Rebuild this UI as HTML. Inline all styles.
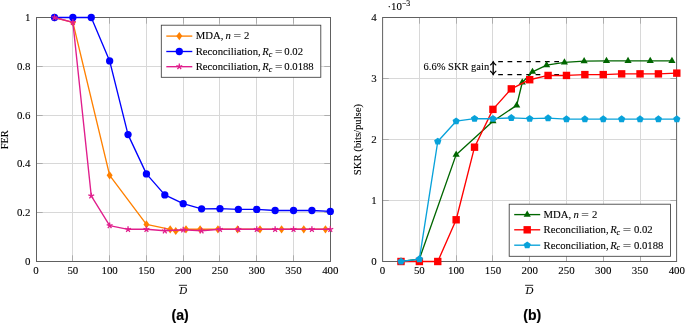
<!DOCTYPE html><html><head><meta charset="utf-8"><style>html,body{margin:0;padding:0;background:#fff}body{width:685px;height:323px;position:relative;overflow:hidden}</style></head><body><svg width="685" height="323" viewBox="0 0 685 323" style="position:absolute;left:0;top:0">
<rect width="685" height="323" fill="#fff"/>
<line x1="72.5" y1="17.5" x2="72.5" y2="261.5" stroke="#d8d8d8" stroke-width="1"/><line x1="109.5" y1="17.5" x2="109.5" y2="261.5" stroke="#d8d8d8" stroke-width="1"/><line x1="146.5" y1="17.5" x2="146.5" y2="261.5" stroke="#d8d8d8" stroke-width="1"/><line x1="183.5" y1="17.5" x2="183.5" y2="261.5" stroke="#d8d8d8" stroke-width="1"/><line x1="219.5" y1="17.5" x2="219.5" y2="261.5" stroke="#d8d8d8" stroke-width="1"/><line x1="256.5" y1="17.5" x2="256.5" y2="261.5" stroke="#d8d8d8" stroke-width="1"/><line x1="293.5" y1="17.5" x2="293.5" y2="261.5" stroke="#d8d8d8" stroke-width="1"/><line x1="36.5" y1="212.5" x2="330.5" y2="212.5" stroke="#d8d8d8" stroke-width="1"/><line x1="36.5" y1="163.5" x2="330.5" y2="163.5" stroke="#d8d8d8" stroke-width="1"/><line x1="36.5" y1="115.5" x2="330.5" y2="115.5" stroke="#d8d8d8" stroke-width="1"/><line x1="36.5" y1="66.5" x2="330.5" y2="66.5" stroke="#d8d8d8" stroke-width="1"/>
<line x1="419.5" y1="17.5" x2="419.5" y2="261.5" stroke="#d8d8d8" stroke-width="1"/><line x1="456.5" y1="17.5" x2="456.5" y2="261.5" stroke="#d8d8d8" stroke-width="1"/><line x1="492.5" y1="17.5" x2="492.5" y2="261.5" stroke="#d8d8d8" stroke-width="1"/><line x1="529.5" y1="17.5" x2="529.5" y2="261.5" stroke="#d8d8d8" stroke-width="1"/><line x1="566.5" y1="17.5" x2="566.5" y2="261.5" stroke="#d8d8d8" stroke-width="1"/><line x1="603.5" y1="17.5" x2="603.5" y2="261.5" stroke="#d8d8d8" stroke-width="1"/><line x1="640.5" y1="17.5" x2="640.5" y2="261.5" stroke="#d8d8d8" stroke-width="1"/><line x1="382.6" y1="200.5" x2="676.6" y2="200.5" stroke="#d8d8d8" stroke-width="1"/><line x1="382.6" y1="139.5" x2="676.6" y2="139.5" stroke="#d8d8d8" stroke-width="1"/><line x1="382.6" y1="78.5" x2="676.6" y2="78.5" stroke="#d8d8d8" stroke-width="1"/>
<clipPath id="c1"><rect x="32.5" y="13.5" width="302.0" height="252.0"/></clipPath>
<line x1="72.5" y1="261.5" x2="72.5" y2="255.3" stroke="#999999" stroke-width="0.7"/><line x1="72.5" y1="17.5" x2="72.5" y2="23.7" stroke="#999999" stroke-width="0.7"/><line x1="109.5" y1="261.5" x2="109.5" y2="255.3" stroke="#999999" stroke-width="0.7"/><line x1="109.5" y1="17.5" x2="109.5" y2="23.7" stroke="#999999" stroke-width="0.7"/><line x1="146.5" y1="261.5" x2="146.5" y2="255.3" stroke="#999999" stroke-width="0.7"/><line x1="146.5" y1="17.5" x2="146.5" y2="23.7" stroke="#999999" stroke-width="0.7"/><line x1="183.5" y1="261.5" x2="183.5" y2="255.3" stroke="#999999" stroke-width="0.7"/><line x1="183.5" y1="17.5" x2="183.5" y2="23.7" stroke="#999999" stroke-width="0.7"/><line x1="219.5" y1="261.5" x2="219.5" y2="255.3" stroke="#999999" stroke-width="0.7"/><line x1="219.5" y1="17.5" x2="219.5" y2="23.7" stroke="#999999" stroke-width="0.7"/><line x1="256.5" y1="261.5" x2="256.5" y2="255.3" stroke="#999999" stroke-width="0.7"/><line x1="256.5" y1="17.5" x2="256.5" y2="23.7" stroke="#999999" stroke-width="0.7"/><line x1="293.5" y1="261.5" x2="293.5" y2="255.3" stroke="#999999" stroke-width="0.7"/><line x1="293.5" y1="17.5" x2="293.5" y2="23.7" stroke="#999999" stroke-width="0.7"/><line x1="36.5" y1="212.5" x2="42.7" y2="212.5" stroke="#999999" stroke-width="0.7"/><line x1="330.5" y1="212.5" x2="324.3" y2="212.5" stroke="#999999" stroke-width="0.7"/><line x1="36.5" y1="163.5" x2="42.7" y2="163.5" stroke="#999999" stroke-width="0.7"/><line x1="330.5" y1="163.5" x2="324.3" y2="163.5" stroke="#999999" stroke-width="0.7"/><line x1="36.5" y1="115.5" x2="42.7" y2="115.5" stroke="#999999" stroke-width="0.7"/><line x1="330.5" y1="115.5" x2="324.3" y2="115.5" stroke="#999999" stroke-width="0.7"/><line x1="36.5" y1="66.5" x2="42.7" y2="66.5" stroke="#999999" stroke-width="0.7"/><line x1="330.5" y1="66.5" x2="324.3" y2="66.5" stroke="#999999" stroke-width="0.7"/><rect x="36.5" y="17.5" width="294.0" height="244.0" fill="none" stroke="#606060" stroke-width="1"/><text x="36.10" y="274.3" font-size="10.9" text-anchor="middle" font-family="Liberation Serif, serif" stroke="#000" stroke-width="0.1" fill="#000">0</text><text x="72.88" y="274.3" font-size="10.9" text-anchor="middle" font-family="Liberation Serif, serif" stroke="#000" stroke-width="0.1" fill="#000">50</text><text x="109.65" y="274.3" font-size="10.9" text-anchor="middle" font-family="Liberation Serif, serif" stroke="#000" stroke-width="0.1" fill="#000">100</text><text x="146.43" y="274.3" font-size="10.9" text-anchor="middle" font-family="Liberation Serif, serif" stroke="#000" stroke-width="0.1" fill="#000">150</text><text x="183.20" y="274.3" font-size="10.9" text-anchor="middle" font-family="Liberation Serif, serif" stroke="#000" stroke-width="0.1" fill="#000">200</text><text x="219.97" y="274.3" font-size="10.9" text-anchor="middle" font-family="Liberation Serif, serif" stroke="#000" stroke-width="0.1" fill="#000">250</text><text x="256.75" y="274.3" font-size="10.9" text-anchor="middle" font-family="Liberation Serif, serif" stroke="#000" stroke-width="0.1" fill="#000">300</text><text x="293.53" y="274.3" font-size="10.9" text-anchor="middle" font-family="Liberation Serif, serif" stroke="#000" stroke-width="0.1" fill="#000">350</text><text x="330.30" y="274.3" font-size="10.9" text-anchor="middle" font-family="Liberation Serif, serif" stroke="#000" stroke-width="0.1" fill="#000">400</text><text x="30.50" y="264.90" font-size="10.9" text-anchor="end" font-family="Liberation Serif, serif" stroke="#000" stroke-width="0.1" fill="#000">0</text><text x="30.50" y="216.10" font-size="10.9" text-anchor="end" font-family="Liberation Serif, serif" stroke="#000" stroke-width="0.1" fill="#000">0.2</text><text x="30.50" y="167.30" font-size="10.9" text-anchor="end" font-family="Liberation Serif, serif" stroke="#000" stroke-width="0.1" fill="#000">0.4</text><text x="30.50" y="118.50" font-size="10.9" text-anchor="end" font-family="Liberation Serif, serif" stroke="#000" stroke-width="0.1" fill="#000">0.6</text><text x="30.50" y="69.70" font-size="10.9" text-anchor="end" font-family="Liberation Serif, serif" stroke="#000" stroke-width="0.1" fill="#000">0.8</text><text x="30.50" y="20.90" font-size="10.9" text-anchor="end" font-family="Liberation Serif, serif" stroke="#000" stroke-width="0.1" fill="#000">1</text>
<line x1="419.5" y1="261.5" x2="419.5" y2="255.3" stroke="#999999" stroke-width="0.7"/><line x1="419.5" y1="17.5" x2="419.5" y2="23.7" stroke="#999999" stroke-width="0.7"/><line x1="456.5" y1="261.5" x2="456.5" y2="255.3" stroke="#999999" stroke-width="0.7"/><line x1="456.5" y1="17.5" x2="456.5" y2="23.7" stroke="#999999" stroke-width="0.7"/><line x1="492.5" y1="261.5" x2="492.5" y2="255.3" stroke="#999999" stroke-width="0.7"/><line x1="492.5" y1="17.5" x2="492.5" y2="23.7" stroke="#999999" stroke-width="0.7"/><line x1="529.5" y1="261.5" x2="529.5" y2="255.3" stroke="#999999" stroke-width="0.7"/><line x1="529.5" y1="17.5" x2="529.5" y2="23.7" stroke="#999999" stroke-width="0.7"/><line x1="566.5" y1="261.5" x2="566.5" y2="255.3" stroke="#999999" stroke-width="0.7"/><line x1="566.5" y1="17.5" x2="566.5" y2="23.7" stroke="#999999" stroke-width="0.7"/><line x1="603.5" y1="261.5" x2="603.5" y2="255.3" stroke="#999999" stroke-width="0.7"/><line x1="603.5" y1="17.5" x2="603.5" y2="23.7" stroke="#999999" stroke-width="0.7"/><line x1="640.5" y1="261.5" x2="640.5" y2="255.3" stroke="#999999" stroke-width="0.7"/><line x1="640.5" y1="17.5" x2="640.5" y2="23.7" stroke="#999999" stroke-width="0.7"/><line x1="382.6" y1="200.5" x2="388.8" y2="200.5" stroke="#999999" stroke-width="0.7"/><line x1="676.6" y1="200.5" x2="670.4" y2="200.5" stroke="#999999" stroke-width="0.7"/><line x1="382.6" y1="139.5" x2="388.8" y2="139.5" stroke="#999999" stroke-width="0.7"/><line x1="676.6" y1="139.5" x2="670.4" y2="139.5" stroke="#999999" stroke-width="0.7"/><line x1="382.6" y1="78.5" x2="388.8" y2="78.5" stroke="#999999" stroke-width="0.7"/><line x1="676.6" y1="78.5" x2="670.4" y2="78.5" stroke="#999999" stroke-width="0.7"/><rect x="382.6" y="17.5" width="294.0" height="244.0" fill="none" stroke="#606060" stroke-width="1"/><text x="382.60" y="274.3" font-size="10.9" text-anchor="middle" font-family="Liberation Serif, serif" stroke="#000" stroke-width="0.1" fill="#000">0</text><text x="419.38" y="274.3" font-size="10.9" text-anchor="middle" font-family="Liberation Serif, serif" stroke="#000" stroke-width="0.1" fill="#000">50</text><text x="456.15" y="274.3" font-size="10.9" text-anchor="middle" font-family="Liberation Serif, serif" stroke="#000" stroke-width="0.1" fill="#000">100</text><text x="492.93" y="274.3" font-size="10.9" text-anchor="middle" font-family="Liberation Serif, serif" stroke="#000" stroke-width="0.1" fill="#000">150</text><text x="529.70" y="274.3" font-size="10.9" text-anchor="middle" font-family="Liberation Serif, serif" stroke="#000" stroke-width="0.1" fill="#000">200</text><text x="566.48" y="274.3" font-size="10.9" text-anchor="middle" font-family="Liberation Serif, serif" stroke="#000" stroke-width="0.1" fill="#000">250</text><text x="603.25" y="274.3" font-size="10.9" text-anchor="middle" font-family="Liberation Serif, serif" stroke="#000" stroke-width="0.1" fill="#000">300</text><text x="640.03" y="274.3" font-size="10.9" text-anchor="middle" font-family="Liberation Serif, serif" stroke="#000" stroke-width="0.1" fill="#000">350</text><text x="676.80" y="274.3" font-size="10.9" text-anchor="middle" font-family="Liberation Serif, serif" stroke="#000" stroke-width="0.1" fill="#000">400</text><text x="376.60" y="264.90" font-size="10.9" text-anchor="end" font-family="Liberation Serif, serif" stroke="#000" stroke-width="0.1" fill="#000">0</text><text x="376.60" y="203.90" font-size="10.9" text-anchor="end" font-family="Liberation Serif, serif" stroke="#000" stroke-width="0.1" fill="#000">1</text><text x="376.60" y="142.90" font-size="10.9" text-anchor="end" font-family="Liberation Serif, serif" stroke="#000" stroke-width="0.1" fill="#000">2</text><text x="376.60" y="81.90" font-size="10.9" text-anchor="end" font-family="Liberation Serif, serif" stroke="#000" stroke-width="0.1" fill="#000">3</text><text x="376.60" y="20.90" font-size="10.9" text-anchor="end" font-family="Liberation Serif, serif" stroke="#000" stroke-width="0.1" fill="#000">4</text>
<line x1="498.2" y1="61.60" x2="559.2" y2="61.60" stroke="#000" stroke-width="1.3" stroke-dasharray="4.7,4.65"/><line x1="498.2" y1="74.60" x2="559.2" y2="74.60" stroke="#000" stroke-width="1.3" stroke-dasharray="4.7,4.65"/><path d="M493.2,61.90L493.2,74.30" stroke="#000" stroke-width="1.3" fill="none"/><path d="M490.5,65.00Q492.59999999999997,63.40 493.2,61.30Q493.8,63.40 495.9,65.00M490.5,71.20Q492.59999999999997,72.80 493.2,74.90Q493.8,72.80 495.9,71.20" stroke="#000" stroke-width="1.1" fill="none" stroke-linecap="round" stroke-linejoin="round"/>
<g>
<polyline points="54.49,17.50 72.88,22.38 109.65,175.37 146.43,224.41 170.18,229.29 175.77,231.00 185.99,229.29 200.12,229.29 217.92,229.29 237.63,229.29 259.99,229.29 281.54,229.29 303.75,229.29 325.45,229.29" fill="none" stroke="#FF8000" stroke-width="1.35" stroke-linejoin="round"/><polygon points="54.49,13.40 57.49,17.50 54.49,21.60 51.49,17.50" fill="#FF8000"/><polygon points="72.88,18.28 75.88,22.38 72.88,26.48 69.88,22.38" fill="#FF8000"/><polygon points="109.65,171.27 112.65,175.37 109.65,179.47 106.65,175.37" fill="#FF8000"/><polygon points="146.43,220.31 149.43,224.41 146.43,228.51 143.43,224.41" fill="#FF8000"/><polygon points="170.18,225.19 173.18,229.29 170.18,233.39 167.18,229.29" fill="#FF8000"/><polygon points="175.77,226.90 178.77,231.00 175.77,235.10 172.77,231.00" fill="#FF8000"/><polygon points="185.99,225.19 188.99,229.29 185.99,233.39 182.99,229.29" fill="#FF8000"/><polygon points="200.12,225.19 203.12,229.29 200.12,233.39 197.12,229.29" fill="#FF8000"/><polygon points="217.92,225.19 220.92,229.29 217.92,233.39 214.92,229.29" fill="#FF8000"/><polygon points="237.63,225.19 240.63,229.29 237.63,233.39 234.63,229.29" fill="#FF8000"/><polygon points="259.99,225.19 262.99,229.29 259.99,233.39 256.99,229.29" fill="#FF8000"/><polygon points="281.54,225.19 284.54,229.29 281.54,233.39 278.54,229.29" fill="#FF8000"/><polygon points="303.75,225.19 306.75,229.29 303.75,233.39 300.75,229.29" fill="#FF8000"/><polygon points="325.45,225.19 328.45,229.29 325.45,233.39 322.45,229.29" fill="#FF8000"/>
<polyline points="54.49,17.50 72.88,17.50 91.26,17.50 109.65,60.93 128.04,134.62 146.43,173.90 164.81,194.89 183.20,203.67 201.59,208.80 219.97,208.67 238.36,209.41 256.75,209.41 275.14,210.50 293.53,210.50 311.91,210.50 330.30,211.38" fill="none" stroke="#0000FF" stroke-width="1.35" stroke-linejoin="round"/><circle cx="54.49" cy="17.50" r="3.65" fill="#0000FF"/><circle cx="72.88" cy="17.50" r="3.65" fill="#0000FF"/><circle cx="91.26" cy="17.50" r="3.65" fill="#0000FF"/><circle cx="109.65" cy="60.93" r="3.65" fill="#0000FF"/><circle cx="128.04" cy="134.62" r="3.65" fill="#0000FF"/><circle cx="146.43" cy="173.90" r="3.65" fill="#0000FF"/><circle cx="164.81" cy="194.89" r="3.65" fill="#0000FF"/><circle cx="183.20" cy="203.67" r="3.65" fill="#0000FF"/><circle cx="201.59" cy="208.80" r="3.65" fill="#0000FF"/><circle cx="219.97" cy="208.67" r="3.65" fill="#0000FF"/><circle cx="238.36" cy="209.41" r="3.65" fill="#0000FF"/><circle cx="256.75" cy="209.41" r="3.65" fill="#0000FF"/><circle cx="275.14" cy="210.50" r="3.65" fill="#0000FF"/><circle cx="293.53" cy="210.50" r="3.65" fill="#0000FF"/><circle cx="311.91" cy="210.50" r="3.65" fill="#0000FF"/><circle cx="330.30" cy="211.38" r="3.65" fill="#0000FF"/>
<polyline points="54.49,17.50 72.88,22.38 91.26,195.86 109.65,225.63 128.04,229.29 146.43,229.29 164.81,230.76 183.20,229.78 201.59,230.76 219.97,229.29 238.36,229.29 256.75,229.29 275.14,229.29 293.53,229.29 311.91,229.29 330.30,229.29" fill="none" stroke="#E01E8C" stroke-width="1.35" stroke-linejoin="round"/><path d="M54.49,17.50L54.49,14.40M54.49,17.50L57.44,16.54M54.49,17.50L56.31,20.01M54.49,17.50L52.67,20.01M54.49,17.50L51.54,16.54" stroke="#E01E8C" stroke-width="1.3" fill="none"/><path d="M72.88,22.38L72.88,19.28M72.88,22.38L75.82,21.42M72.88,22.38L74.70,24.89M72.88,22.38L71.05,24.89M72.88,22.38L69.93,21.42" stroke="#E01E8C" stroke-width="1.3" fill="none"/><path d="M91.26,195.86L91.26,192.76M91.26,195.86L94.21,194.91M91.26,195.86L93.08,198.37M91.26,195.86L89.44,198.37M91.26,195.86L88.31,194.91" stroke="#E01E8C" stroke-width="1.3" fill="none"/><path d="M109.65,225.63L109.65,222.53M109.65,225.63L112.60,224.67M109.65,225.63L111.47,228.14M109.65,225.63L107.83,228.14M109.65,225.63L106.70,224.67" stroke="#E01E8C" stroke-width="1.3" fill="none"/><path d="M128.04,229.29L128.04,226.19M128.04,229.29L130.99,228.33M128.04,229.29L129.86,231.80M128.04,229.29L126.22,231.80M128.04,229.29L125.09,228.33" stroke="#E01E8C" stroke-width="1.3" fill="none"/><path d="M146.43,229.29L146.43,226.19M146.43,229.29L149.37,228.33M146.43,229.29L148.25,231.80M146.43,229.29L144.60,231.80M146.43,229.29L143.48,228.33" stroke="#E01E8C" stroke-width="1.3" fill="none"/><path d="M164.81,230.76L164.81,227.66M164.81,230.76L167.76,229.80M164.81,230.76L166.63,233.26M164.81,230.76L162.99,233.26M164.81,230.76L161.86,229.80" stroke="#E01E8C" stroke-width="1.3" fill="none"/><path d="M183.20,229.78L183.20,226.68M183.20,229.78L186.15,228.82M183.20,229.78L185.02,232.29M183.20,229.78L181.38,232.29M183.20,229.78L180.25,228.82" stroke="#E01E8C" stroke-width="1.3" fill="none"/><path d="M201.59,230.76L201.59,227.66M201.59,230.76L204.54,229.80M201.59,230.76L203.41,233.26M201.59,230.76L199.77,233.26M201.59,230.76L198.64,229.80" stroke="#E01E8C" stroke-width="1.3" fill="none"/><path d="M219.97,229.29L219.97,226.19M219.97,229.29L222.92,228.33M219.97,229.29L221.80,231.80M219.97,229.29L218.15,231.80M219.97,229.29L217.03,228.33" stroke="#E01E8C" stroke-width="1.3" fill="none"/><path d="M238.36,229.29L238.36,226.19M238.36,229.29L241.31,228.33M238.36,229.29L240.18,231.80M238.36,229.29L236.54,231.80M238.36,229.29L235.41,228.33" stroke="#E01E8C" stroke-width="1.3" fill="none"/><path d="M256.75,229.29L256.75,226.19M256.75,229.29L259.70,228.33M256.75,229.29L258.57,231.80M256.75,229.29L254.93,231.80M256.75,229.29L253.80,228.33" stroke="#E01E8C" stroke-width="1.3" fill="none"/><path d="M275.14,229.29L275.14,226.19M275.14,229.29L278.09,228.33M275.14,229.29L276.96,231.80M275.14,229.29L273.32,231.80M275.14,229.29L272.19,228.33" stroke="#E01E8C" stroke-width="1.3" fill="none"/><path d="M293.53,229.29L293.53,226.19M293.53,229.29L296.47,228.33M293.53,229.29L295.35,231.80M293.53,229.29L291.70,231.80M293.53,229.29L290.58,228.33" stroke="#E01E8C" stroke-width="1.3" fill="none"/><path d="M311.91,229.29L311.91,226.19M311.91,229.29L314.86,228.33M311.91,229.29L313.73,231.80M311.91,229.29L310.09,231.80M311.91,229.29L308.96,228.33" stroke="#E01E8C" stroke-width="1.3" fill="none"/><path d="M330.30,229.29L330.30,226.19M330.30,229.29L333.25,228.33M330.30,229.29L332.12,231.80M330.30,229.29L328.48,231.80M330.30,229.29L327.35,228.33" stroke="#E01E8C" stroke-width="1.3" fill="none"/>
</g>
<g>
<polyline points="400.99,261.50 419.38,259.06 456.15,154.63 492.93,121.20 516.68,105.34 522.27,82.47 532.49,71.79 546.62,65.20 564.42,62.40 584.13,61.11 606.49,60.93 628.04,60.93 650.25,60.93 671.95,60.81" fill="none" stroke="#006600" stroke-width="1.35" stroke-linejoin="round"/><polygon points="400.99,257.35 404.58,263.57 397.39,263.57" fill="#006600"/><polygon points="419.38,254.91 422.97,261.13 415.78,261.13" fill="#006600"/><polygon points="456.15,150.48 459.74,156.70 452.56,156.70" fill="#006600"/><polygon points="492.93,117.05 496.52,123.28 489.33,123.28" fill="#006600"/><polygon points="516.68,101.19 520.28,107.42 513.09,107.42" fill="#006600"/><polygon points="522.27,78.31 525.87,84.54 518.68,84.54" fill="#006600"/><polygon points="532.49,67.64 536.09,73.87 528.90,73.87" fill="#006600"/><polygon points="546.62,61.05 550.21,67.28 543.02,67.28" fill="#006600"/><polygon points="564.42,58.25 568.01,64.47 560.82,64.47" fill="#006600"/><polygon points="584.13,56.96 587.72,63.19 580.53,63.19" fill="#006600"/><polygon points="606.49,56.78 610.08,63.01 602.89,63.01" fill="#006600"/><polygon points="628.04,56.78 631.63,63.01 624.44,63.01" fill="#006600"/><polygon points="650.25,56.78 653.84,63.01 646.65,63.01" fill="#006600"/><polygon points="671.95,56.66 675.54,62.89 668.35,62.89" fill="#006600"/>
<polyline points="400.99,261.50 419.38,261.50 437.76,261.50 456.15,219.78 474.54,147.19 492.93,109.37 511.31,88.87 529.70,79.72 548.09,75.45 566.48,75.45 584.86,74.60 603.25,74.60 621.64,73.86 640.03,73.86 658.41,73.86 676.80,73.13" fill="none" stroke="#FF0000" stroke-width="1.35" stroke-linejoin="round"/><rect x="397.29" y="257.80" width="7.4" height="7.4" fill="#FF0000"/><rect x="415.68" y="257.80" width="7.4" height="7.4" fill="#FF0000"/><rect x="434.06" y="257.80" width="7.4" height="7.4" fill="#FF0000"/><rect x="452.45" y="216.08" width="7.4" height="7.4" fill="#FF0000"/><rect x="470.84" y="143.49" width="7.4" height="7.4" fill="#FF0000"/><rect x="489.23" y="105.67" width="7.4" height="7.4" fill="#FF0000"/><rect x="507.61" y="85.17" width="7.4" height="7.4" fill="#FF0000"/><rect x="526.00" y="76.02" width="7.4" height="7.4" fill="#FF0000"/><rect x="544.39" y="71.75" width="7.4" height="7.4" fill="#FF0000"/><rect x="562.77" y="71.75" width="7.4" height="7.4" fill="#FF0000"/><rect x="581.16" y="70.90" width="7.4" height="7.4" fill="#FF0000"/><rect x="599.55" y="70.90" width="7.4" height="7.4" fill="#FF0000"/><rect x="617.94" y="70.16" width="7.4" height="7.4" fill="#FF0000"/><rect x="636.33" y="70.16" width="7.4" height="7.4" fill="#FF0000"/><rect x="654.71" y="70.16" width="7.4" height="7.4" fill="#FF0000"/><rect x="673.10" y="69.43" width="7.4" height="7.4" fill="#FF0000"/>
<polyline points="400.99,261.50 419.38,259.06 437.76,141.51 456.15,121.20 474.54,118.70 492.93,118.70 511.31,117.91 529.70,118.70 548.09,118.15 566.48,119.06 584.86,119.06 603.25,119.06 621.64,119.06 640.03,119.06 658.41,119.06 676.80,119.06" fill="none" stroke="#08A2DA" stroke-width="1.35" stroke-linejoin="round"/><polygon points="400.99,257.70 404.60,260.33 403.22,264.57 398.75,264.57 397.37,260.33" fill="#08A2DA"/><polygon points="419.38,255.26 422.99,257.89 421.61,262.13 417.14,262.13 415.76,257.89" fill="#08A2DA"/><polygon points="437.76,137.71 441.38,140.34 440.00,144.59 435.53,144.59 434.15,140.34" fill="#08A2DA"/><polygon points="456.15,117.40 459.76,120.03 458.38,124.27 453.92,124.27 452.54,120.03" fill="#08A2DA"/><polygon points="474.54,114.90 478.15,117.52 476.77,121.77 472.30,121.77 470.92,117.52" fill="#08A2DA"/><polygon points="492.93,114.90 496.54,117.52 495.16,121.77 490.69,121.77 489.31,117.52" fill="#08A2DA"/><polygon points="511.31,114.11 514.93,116.73 513.55,120.98 509.08,120.98 507.70,116.73" fill="#08A2DA"/><polygon points="529.70,114.90 533.31,117.52 531.93,121.77 527.47,121.77 526.09,117.52" fill="#08A2DA"/><polygon points="548.09,114.35 551.70,116.98 550.32,121.22 545.85,121.22 544.47,116.98" fill="#08A2DA"/><polygon points="566.48,115.27 570.09,117.89 568.71,122.14 564.24,122.14 562.86,117.89" fill="#08A2DA"/><polygon points="584.86,115.27 588.48,117.89 587.10,122.14 582.63,122.14 581.25,117.89" fill="#08A2DA"/><polygon points="603.25,115.27 606.86,117.89 605.48,122.14 601.02,122.14 599.64,117.89" fill="#08A2DA"/><polygon points="621.64,115.27 625.25,117.89 623.87,122.14 619.40,122.14 618.02,117.89" fill="#08A2DA"/><polygon points="640.03,115.27 643.64,117.89 642.26,122.14 637.79,122.14 636.41,117.89" fill="#08A2DA"/><polygon points="658.41,115.27 662.03,117.89 660.65,122.14 656.18,122.14 654.80,117.89" fill="#08A2DA"/><polygon points="676.80,115.27 680.41,117.89 679.03,122.14 674.57,122.14 673.19,117.89" fill="#08A2DA"/>
</g>
<text x="489.2" y="70.2" font-size="10.5" text-anchor="end" font-family="Liberation Serif, serif" stroke="#000" stroke-width="0.1" fill="#000">6.6% SKR gain</text>
<rect x="161.3" y="25.2" width="159.5" height="52.1" fill="#fff" stroke="#3c3c3c" stroke-width="0.85"/><line x1="166.3" y1="36.1" x2="192.3" y2="36.1" stroke="#FF8000" stroke-width="1.35"/><polygon points="179.30,32.00 182.30,36.10 179.30,40.20 176.30,36.10" fill="#FF8000"/><text x="195.70" y="39.40" font-size="10.7" font-family="Liberation Serif, serif" stroke="#000" stroke-width="0.1" fill="#000" >MDA,</text><text x="225.50" y="39.40" font-size="10.7" font-family="Liberation Serif, serif" stroke="#000" stroke-width="0.1" fill="#000" font-style="italic">n</text><text transform="translate(237.20,39.40) scale(1.260,1)" font-size="10.7" text-anchor="middle" font-family="Liberation Serif, serif" stroke="#000" stroke-width="0.1" fill="#000">=</text><text x="244.00" y="39.40" font-size="10.7" font-family="Liberation Serif, serif" stroke="#000" stroke-width="0.1" fill="#000" >2</text><line x1="166.3" y1="51.5" x2="192.3" y2="51.5" stroke="#0000FF" stroke-width="1.35"/><circle cx="179.30" cy="51.50" r="3.65" fill="#0000FF"/><text x="195.70" y="54.80" font-size="10.7" font-family="Liberation Serif, serif" stroke="#000" stroke-width="0.1" fill="#000" >Reconciliation,</text><text x="262.30" y="54.80" font-size="10.7" font-family="Liberation Serif, serif" stroke="#000" stroke-width="0.1" fill="#000" font-style="italic">R<tspan font-size="8.2" dy="1.8" dx="-0.2">c</tspan></text><text transform="translate(278.70,54.80) scale(1.240,1)" font-size="10.7" text-anchor="middle" font-family="Liberation Serif, serif" stroke="#000" stroke-width="0.1" fill="#000">=</text><text x="284.30" y="54.80" font-size="10.7" font-family="Liberation Serif, serif" stroke="#000" stroke-width="0.1" fill="#000" >0.02</text><line x1="166.3" y1="66.7" x2="192.3" y2="66.7" stroke="#E01E8C" stroke-width="1.35"/><path d="M179.30,66.70L179.30,63.60M179.30,66.70L182.25,65.74M179.30,66.70L181.12,69.21M179.30,66.70L177.48,69.21M179.30,66.70L176.35,65.74" stroke="#E01E8C" stroke-width="1.3" fill="none"/><text x="195.70" y="70.00" font-size="10.7" font-family="Liberation Serif, serif" stroke="#000" stroke-width="0.1" fill="#000" >Reconciliation,</text><text x="262.30" y="70.00" font-size="10.7" font-family="Liberation Serif, serif" stroke="#000" stroke-width="0.1" fill="#000" font-style="italic">R<tspan font-size="8.2" dy="1.8" dx="-0.2">c</tspan></text><text transform="translate(278.70,70.00) scale(1.240,1)" font-size="10.7" text-anchor="middle" font-family="Liberation Serif, serif" stroke="#000" stroke-width="0.1" fill="#000">=</text><text x="284.30" y="70.00" font-size="10.7" font-family="Liberation Serif, serif" stroke="#000" stroke-width="0.1" fill="#000" >0.0188</text>
<rect x="509.2" y="204.2" width="161.3" height="52.1" fill="#fff" stroke="#3c3c3c" stroke-width="0.85"/><line x1="514.2" y1="214.6" x2="540.2" y2="214.6" stroke="#006600" stroke-width="1.35"/><polygon points="527.20,210.45 530.79,216.67 523.61,216.67" fill="#006600"/><text x="543.60" y="217.90" font-size="10.7" font-family="Liberation Serif, serif" stroke="#000" stroke-width="0.1" fill="#000" >MDA,</text><text x="573.40" y="217.90" font-size="10.7" font-family="Liberation Serif, serif" stroke="#000" stroke-width="0.1" fill="#000" font-style="italic">n</text><text transform="translate(585.10,217.90) scale(1.260,1)" font-size="10.7" text-anchor="middle" font-family="Liberation Serif, serif" stroke="#000" stroke-width="0.1" fill="#000">=</text><text x="591.90" y="217.90" font-size="10.7" font-family="Liberation Serif, serif" stroke="#000" stroke-width="0.1" fill="#000" >2</text><line x1="514.2" y1="229.8" x2="540.2" y2="229.8" stroke="#FF0000" stroke-width="1.35"/><rect x="523.50" y="226.10" width="7.4" height="7.4" fill="#FF0000"/><text x="543.60" y="233.10" font-size="10.7" font-family="Liberation Serif, serif" stroke="#000" stroke-width="0.1" fill="#000" >Reconciliation,</text><text x="610.20" y="233.10" font-size="10.7" font-family="Liberation Serif, serif" stroke="#000" stroke-width="0.1" fill="#000" font-style="italic">R<tspan font-size="8.2" dy="1.8" dx="-0.2">c</tspan></text><text transform="translate(627.10,233.10) scale(1.400,1)" font-size="10.7" text-anchor="middle" font-family="Liberation Serif, serif" stroke="#000" stroke-width="0.1" fill="#000">=</text><text x="634.00" y="233.10" font-size="10.7" font-family="Liberation Serif, serif" stroke="#000" stroke-width="0.1" fill="#000" >0.02</text><line x1="514.2" y1="245.2" x2="540.2" y2="245.2" stroke="#08A2DA" stroke-width="1.35"/><polygon points="527.20,241.40 530.81,244.03 529.43,248.27 524.97,248.27 523.59,244.03" fill="#08A2DA"/><text x="543.60" y="248.50" font-size="10.7" font-family="Liberation Serif, serif" stroke="#000" stroke-width="0.1" fill="#000" >Reconciliation,</text><text x="610.20" y="248.50" font-size="10.7" font-family="Liberation Serif, serif" stroke="#000" stroke-width="0.1" fill="#000" font-style="italic">R<tspan font-size="8.2" dy="1.8" dx="-0.2">c</tspan></text><text transform="translate(627.10,248.50) scale(1.400,1)" font-size="10.7" text-anchor="middle" font-family="Liberation Serif, serif" stroke="#000" stroke-width="0.1" fill="#000">=</text><text x="634.00" y="248.50" font-size="10.7" font-family="Liberation Serif, serif" stroke="#000" stroke-width="0.1" fill="#000" >0.0188</text>
<text transform="translate(8.3,139.8) rotate(-90)" font-size="10.4" text-anchor="middle" font-family="Liberation Serif, serif" stroke="#000" stroke-width="0.1" fill="#000">FER</text>
<text transform="translate(360.6,139.6) rotate(-90)" font-size="10.65" text-anchor="middle" font-family="Liberation Serif, serif" stroke="#000" stroke-width="0.1" fill="#000">SKR (bits/pulse)</text>
<text x="183.3" y="293.8" font-size="10.9" font-style="italic" text-anchor="middle" font-family="Liberation Serif, serif" stroke="#000" stroke-width="0.1" fill="#000">D</text>
<line x1="178.9" y1="285.3" x2="187.0" y2="285.3" stroke="#111" stroke-width="0.9"/>
<text x="529.5" y="293.8" font-size="10.9" font-style="italic" text-anchor="middle" font-family="Liberation Serif, serif" stroke="#000" stroke-width="0.1" fill="#000">D</text>
<line x1="525.1" y1="285.3" x2="533.2" y2="285.3" stroke="#111" stroke-width="0.9"/>
<text transform="translate(180.1,320.0) scale(0.97,1)" font-size="14.5" font-weight="bold" text-anchor="middle" font-family="Liberation Sans, sans-serif" fill="#000" stroke="#111" stroke-width="0.2">(a)</text>
<text transform="translate(532.3,320.0) scale(0.97,1)" font-size="14.5" font-weight="bold" text-anchor="middle" font-family="Liberation Sans, sans-serif" fill="#000" stroke="#111" stroke-width="0.2">(b)</text>
<text x="387.4" y="9.6" font-size="10.9" font-family="Liberation Serif, serif" stroke="#000" stroke-width="0.1" fill="#000">·10<tspan font-size="7.8" dy="-3.8">−3</tspan></text>
</svg></body></html>
